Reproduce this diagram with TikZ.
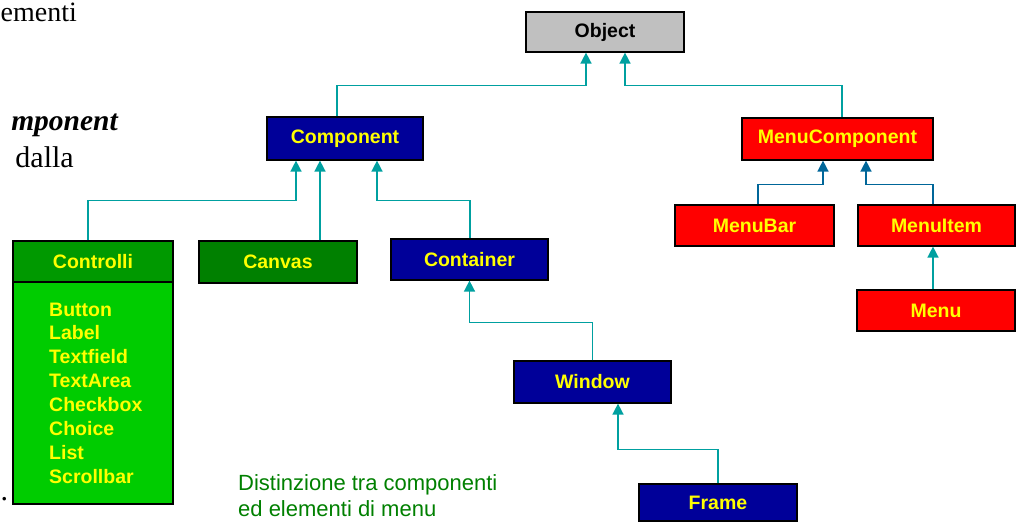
\documentclass[tikz,border=0pt]{standalone}
\usepackage{fontspec}
\setmainfont{Liberation Sans}
\newfontfamily\seriffont{Liberation Serif}
\usetikzlibrary{arrows.meta}
\definecolor{navyb}{RGB}{0,0,153}
\definecolor{redb}{RGB}{255,0,0}
\definecolor{grayb}{RGB}{192,192,192}
\definecolor{greenhead}{RGB}{0,153,0}
\definecolor{greenbody}{RGB}{0,204,0}
\definecolor{greendark}{RGB}{0,128,0}
\definecolor{tealline}{RGB}{0,160,160}
\definecolor{blueline}{RGB}{0,102,153}
\definecolor{yel}{RGB}{255,255,0}
\definecolor{captiongreen}{RGB}{0,128,0}
\begin{document}
\begin{tikzpicture}[x=1pt,y=-1pt,
  box/.style={draw=black, line width=1.2pt, inner sep=0pt, text=yel,
    font=\fontsize{19.5}{23}\selectfont\bfseries},
  navybox/.style={box, fill=navyb},
  redbox/.style={box, fill=redb},
  listitem/.style={inner sep=0pt, text=yel, font=\fontsize{19.5}{23}\selectfont\bfseries},
  caption/.style={inner sep=0pt, text=captiongreen, font=\fontsize{22}{26}\selectfont},
  bodytext/.style={inner sep=0pt, text=black, font=\seriffont\fontsize{28}{32}\selectfont},
  arr/.style={draw=tealline, line width=1.5pt, -{Triangle[width=11pt,length=11pt]}},
  marr/.style={arr, draw=blueline}
]
\useasboundingbox (0,0) rectangle (1018,522);

% partial body text on the left
\node[bodytext, anchor=base west] (t1) at (0.5,21) {ementi};
\node[bodytext, anchor=base east, font=\seriffont\fontsize{29.5}{34}\selectfont\bfseries\itshape] (t2) at (118,130) {mponent};
\node[bodytext, anchor=base east, font=\seriffont\fontsize{30}{34}\selectfont] (t3) at (74,167) {dalla};
\node[bodytext, anchor=base west, font=\seriffont\fontsize{30}{34}\selectfont] (t4) at (0.5,500) {.};

% boxes
\node[box, fill=grayb, text=black, minimum width=158pt, minimum height=40pt] (obj) at (605,32) {Object};
\node[navybox, minimum width=156pt, minimum height=43pt] (comp) at (345,138.5) {Component};
\node[redbox, minimum width=191pt, minimum height=42pt] (mcomp) at (837.5,139) {MenuComponent};

\node[box, fill=greenbody, minimum width=160pt, minimum height=222pt] (ctrlbody) at (93,393) {};
\node[box, fill=greenhead, minimum width=160pt, minimum height=41pt] (ctrl) at (93,261.5) {Controlli};
\node[box, fill=greendark, minimum width=158pt, minimum height=42pt] (canvas) at (278,262) {Canvas};
\node[navybox, minimum width=157pt, minimum height=41pt] (cont) at (469.5,259.5) {Container};
\node[navybox, minimum width=157pt, minimum height=42pt] (win) at (592.5,382) {Window};
\node[navybox, minimum width=158pt, minimum height=37pt] (frame) at (718,502.5) {Frame};

\node[redbox, minimum width=159pt, minimum height=41pt] (mbar) at (754.5,225.5) {MenuBar};
\node[redbox, minimum width=157pt, minimum height=41pt] (mitem) at (936.5,225.5) {MenuItem};
\node[redbox, minimum width=158pt, minimum height=41pt] (menu) at (936,310.5) {Menu};

% list of controls
\foreach \t [count=\i] in {Button,Label,Textfield,TextArea,Checkbox,Choice,List,Scrollbar}
  \node[listitem, anchor=base west] (item\i) at (49,{316+23.9*(\i-1)}) {\t};

% caption
\node[caption, anchor=base west] (cap1) at (238,490) {Distinzione tra componenti};
\node[caption, anchor=base west] (cap2) at (238,516) {ed elementi di menu};

% connectors
\draw[arr] ([xshift=-8pt]comp.north) -- ++(0,-31) -| ([xshift=-19pt]obj.south);
\draw[arr] ([xshift=4.5pt]mcomp.north) -- ++(0,-32) -| ([xshift=20pt]obj.south);
\draw[arr] ([xshift=-5pt]ctrl.north) -- ++(0,-40) -| ([xshift=-49pt]comp.south);
\draw[arr] ([xshift=-25pt]comp.south |- canvas.north) -- ([xshift=-25pt]comp.south);
\draw[arr] ([xshift=0.5pt]cont.north) -- ++(0,-38) -| ([xshift=32pt]comp.south);
\draw[arr] (win.north) -- ++(0,-38) -| (cont.south);
\draw[arr] (frame.north) -- ++(0,-34) -| ([xshift=25.5pt]win.south);
\draw[marr] ([xshift=3.5pt]mbar.north) -- ++(0,-20) -| ([xshift=-14.5pt]mcomp.south);
\draw[marr] ([xshift=-3.5pt]mitem.north) -- ++(0,-20) -| ([xshift=28.5pt]mcomp.south);
\draw[arr] ([xshift=-3pt]menu.north) -- ([xshift=-3pt]menu.north |- mitem.south);
\end{tikzpicture}
\end{document}
